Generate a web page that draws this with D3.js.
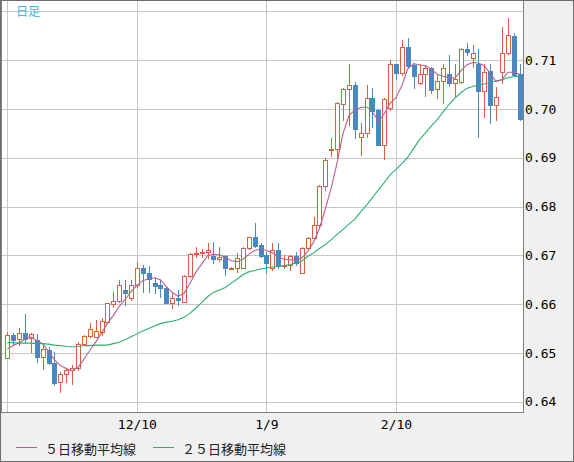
<!DOCTYPE html>
<html>
<head>
<meta charset="utf-8">
<script src="https://cdn.jsdelivr.net/npm/d3@7"></script>
<style>
  body { margin: 0; background: #fff; }
  svg { display: block; }
</style>
</head>
<body>
<svg id="candleChart" width="574" height="462"></svg>
<script>
// daily candles (oldest first)
const opens = [
  0.6489, 0.6537, 0.6528, 0.6541, 0.6530, 0.6526, 0.6492, 0.6506, 0.6479, 0.6440, 0.6456,
  0.6464, 0.6470, 0.6518, 0.6535, 0.6533, 0.6543, 0.6564, 0.6600, 0.6607, 0.6629, 0.6612,
  0.6639, 0.6675, 0.6663, 0.6643, 0.6639, 0.6632, 0.6603, 0.6613, 0.6605, 0.6658, 0.6702,
  0.6704, 0.6706, 0.6699, 0.6692, 0.6699, 0.6674, 0.6673, 0.6675, 0.6714, 0.6737, 0.6721,
  0.6700, 0.6673, 0.6711, 0.6679, 0.6680, 0.6699, 0.6664, 0.6714, 0.6735, 0.6762, 0.6842,
  0.6916, 0.6917, 0.7011, 0.7040, 0.7049, 0.6942, 0.6950, 0.7022, 0.6998, 0.6926, 0.7001,
  0.7092, 0.7073, 0.7127, 0.7090, 0.7053, 0.7071, 0.7083, 0.7040, 0.7057, 0.7072, 0.7054,
  0.7055, 0.7122, 0.7104, 0.7091, 0.7037, 0.7078, 0.7007, 0.7076, 0.7114, 0.7149, 0.7072
];
const highs = [
  0.6543, 0.6541, 0.6550, 0.6580, 0.6540, 0.6539, 0.6516, 0.6513, 0.6502, 0.6460, 0.6470,
  0.6475, 0.6523, 0.6537, 0.6561, 0.6567, 0.6571, 0.6602, 0.6625, 0.6649, 0.6649, 0.6649,
  0.6687, 0.6680, 0.6679, 0.6653, 0.6649, 0.6636, 0.6622, 0.6629, 0.6660, 0.6704, 0.6718,
  0.6713, 0.6725, 0.6728, 0.6716, 0.6701, 0.6676, 0.6704, 0.6718, 0.6738, 0.6766, 0.6725,
  0.6707, 0.6725, 0.6725, 0.6700, 0.6701, 0.6707, 0.6716, 0.6738, 0.6779, 0.6844, 0.6899,
  0.6940, 0.7015, 0.7042, 0.7092, 0.7056, 0.6972, 0.7049, 0.7042, 0.6999, 0.7022, 0.7100,
  0.7093, 0.7141, 0.7146, 0.7093, 0.7093, 0.7090, 0.7085, 0.7070, 0.7093, 0.7110, 0.7093,
  0.7124, 0.7136, 0.7131, 0.7122, 0.7093, 0.7093, 0.7045, 0.7168, 0.7186, 0.7156, 0.7093
];
const lows = [
  0.6489, 0.6516, 0.6516, 0.6523, 0.6502, 0.6482, 0.6466, 0.6477, 0.6434, 0.6420, 0.6441,
  0.6436, 0.6465, 0.6516, 0.6532, 0.6533, 0.6537, 0.6561, 0.6595, 0.6605, 0.6598, 0.6608,
  0.6636, 0.6625, 0.6625, 0.6622, 0.6615, 0.6602, 0.6591, 0.6598, 0.6605, 0.6656, 0.6697,
  0.6697, 0.6694, 0.6684, 0.6689, 0.6660, 0.6673, 0.6666, 0.6673, 0.6713, 0.6718, 0.6697,
  0.6663, 0.6670, 0.6673, 0.6673, 0.6670, 0.6680, 0.6664, 0.6712, 0.6733, 0.6760, 0.6834,
  0.6903, 0.6902, 0.6977, 0.6967, 0.6940, 0.6906, 0.6943, 0.6963, 0.6925, 0.6897, 0.6998,
  0.7061, 0.7069, 0.7086, 0.7042, 0.7052, 0.7027, 0.7033, 0.7022, 0.7013, 0.7046, 0.7026,
  0.7053, 0.7110, 0.7085, 0.6942, 0.6984, 0.6972, 0.6977, 0.7053, 0.7112, 0.7067, 0.6977
];
const closes = [
  0.6537, 0.6526, 0.6540, 0.6528, 0.6538, 0.6492, 0.6507, 0.6479, 0.6439, 0.6456, 0.6465,
  0.6470, 0.6518, 0.6535, 0.6548, 0.6545, 0.6565, 0.6602, 0.6607, 0.6639, 0.6623, 0.6639,
  0.6675, 0.6663, 0.6651, 0.6637, 0.6632, 0.6603, 0.6612, 0.6609, 0.6658, 0.6702, 0.6704,
  0.6707, 0.6711, 0.6692, 0.6697, 0.6673, 0.6675, 0.6694, 0.6714, 0.6737, 0.6719, 0.6699,
  0.6685, 0.6711, 0.6678, 0.6680, 0.6699, 0.6684, 0.6714, 0.6735, 0.6762, 0.6842, 0.6895,
  0.6918, 0.7013, 0.7040, 0.7049, 0.6959, 0.6950, 0.7022, 0.6996, 0.6926, 0.7020, 0.7093,
  0.7073, 0.7126, 0.7088, 0.7068, 0.7071, 0.7083, 0.7039, 0.7057, 0.7083, 0.7054, 0.7061,
  0.7122, 0.7117, 0.7114, 0.7037, 0.7076, 0.7007, 0.7025, 0.7114, 0.7151, 0.7069, 0.6979
];
// moving averages as drawn
const ma5 = [
  0.6508, 0.6515, 0.6521, 0.6528, 0.6533, 0.6525, 0.6519, 0.6503, 0.6486, 0.6474, 0.6468,
  0.6463, 0.6470, 0.6487, 0.6505, 0.6522, 0.6541, 0.6560, 0.6577, 0.6595, 0.6610, 0.6625,
  0.6639, 0.6648, 0.6652, 0.6654, 0.6650, 0.6636, 0.6624, 0.6616, 0.6622, 0.6642, 0.6665,
  0.6682, 0.6699, 0.6702, 0.6701, 0.6696, 0.6689, 0.6687, 0.6692, 0.6702, 0.6710, 0.6713,
  0.6710, 0.6705, 0.6697, 0.6692, 0.6691, 0.6691, 0.6694, 0.6708, 0.6727, 0.6755, 0.6795,
  0.6838, 0.6890, 0.6950, 0.6986, 0.6998, 0.7003, 0.7004, 0.6994, 0.6975, 0.6990, 0.7012,
  0.7023, 0.7048, 0.7082, 0.7093, 0.7090, 0.7089, 0.7081, 0.7071, 0.7067, 0.7064, 0.7063,
  0.7078, 0.7090, 0.7095, 0.7094, 0.7088, 0.7073, 0.7056, 0.7060, 0.7075, 0.7075, 0.7071
];
const ma25 = [
  0.6521, 0.6521, 0.6520, 0.6520, 0.6520, 0.6519, 0.6519, 0.6518, 0.6516, 0.6515, 0.6513,
  0.6512, 0.6513, 0.6515, 0.6515, 0.6516, 0.6516, 0.6516, 0.6519, 0.6522, 0.6527, 0.6533,
  0.6539, 0.6545, 0.6550, 0.6555, 0.6560, 0.6563, 0.6565, 0.6568, 0.6573, 0.6581, 0.6592,
  0.6603, 0.6615, 0.6624, 0.6629, 0.6634, 0.6643, 0.6651, 0.6660, 0.6666, 0.6669, 0.6672,
  0.6674, 0.6676, 0.6677, 0.6679, 0.6681, 0.6684, 0.6688, 0.6698, 0.6705, 0.6714, 0.6722,
  0.6732, 0.6743, 0.6753, 0.6764, 0.6774, 0.6789, 0.6803, 0.6818, 0.6834, 0.6849, 0.6865,
  0.6876, 0.6888, 0.6901, 0.6919, 0.6937, 0.6951, 0.6965, 0.6978, 0.6994, 0.7009, 0.7022,
  0.7033, 0.7042, 0.7046, 0.7049, 0.7051, 0.7054, 0.7057, 0.7060, 0.7064, 0.7066, 0.7067
];
const tickIndex = [0, 22, 44, 66];
const tickLabels = ['', '12/10', '1/9', '2/10'];
const gridPrices = [0.64, 0.65, 0.66, 0.67, 0.68, 0.69, 0.70, 0.71, 0.72];
const labelPrices = [0.64, 0.65, 0.66, 0.67, 0.68, 0.69, 0.70, 0.71];
const legendNames = ['５日移動平均線', '２５日移動平均線'];

var svg;
const upColor = '#d8603f';
const downColor = '#4a88c2';
const ma5Color = '#bb5d8e';
const ma25Color = '#2bb06f';

document.addEventListener('DOMContentLoaded', function () {
  svg = d3.select('#candleChart');
  drawCandleChart();
});

function drawCandleChart() {
  const plot = { left: 1, top: 1, right: 523, bottom: 412 };

  // outer panel + white plot area
  svg.append('rect')
    .attr('x', 0.5).attr('y', 0.5)
    .attr('width', 573).attr('height', 461)
    .style('fill', '#f0f0f0')
    .style('stroke', '#6e6e6e');
  svg.append('rect')
    .attr('x', plot.left).attr('y', plot.top)
    .attr('width', plot.right - plot.left).attr('height', plot.bottom - plot.top)
    .style('fill', '#fff');

  const xScale = d3.scaleLinear()
    .domain([0, closes.length - 1])
    .range([7.3, 519.7]);
  const yScale = d3.scaleLinear()
    .domain([0.64, 0.72])
    .range([401.7, 11.3]);

  // grid lines
  const hGrid = svg.append('g')
    .attr('transform', `translate(${plot.right}, 0)`)
    .call(d3.axisRight(yScale).tickValues(gridPrices).tickSize(-(plot.right - plot.left)).tickFormat(''));
  const vGrid = svg.append('g')
    .attr('transform', `translate(0, ${plot.bottom})`)
    .call(d3.axisBottom(xScale).tickValues(tickIndex).tickSize(-(plot.bottom - plot.top)).tickFormat(''));
  [hGrid, vGrid].forEach(g => {
    g.select('.domain').remove();
    g.selectAll('line').style('stroke', '#c8c8c8').style('shape-rendering', 'crispEdges');
  });

  svg.append('clipPath').attr('id', 'plotClip')
    .append('rect')
    .attr('x', plot.left).attr('y', plot.top)
    .attr('width', plot.right - plot.left).attr('height', plot.bottom - plot.top);

  const g = svg.append('g').attr('clip-path', 'url(#plotClip)');
  const idx = d3.range(closes.length);
  const col = i => Math.round(xScale(i));
  const row = v => Math.round(yScale(v));

  // wicks
  g.selectAll('.wick')
    .data(idx)
    .enter()
    .append('line')
    .attr('x1', i => col(i) + 0.5)
    .attr('x2', i => col(i) + 0.5)
    .attr('y1', i => row(highs[i]))
    .attr('y2', i => row(lows[i]) + 1)
    .style('stroke', i => closes[i] >= opens[i] ? upColor : downColor)
    .style('stroke-width', 1)
    .style('shape-rendering', 'crispEdges');

  // down candles: filled blue
  g.selectAll('.down')
    .data(idx.filter(i => closes[i] < opens[i]))
    .enter()
    .append('rect')
    .attr('x', i => col(i) - 2)
    .attr('y', i => row(opens[i]))
    .attr('width', 5)
    .attr('height', i => Math.max(row(closes[i]) - row(opens[i]), 1) + 1)
    .style('fill', downColor)
    .style('shape-rendering', 'crispEdges');

  // up candles: hollow red
  g.selectAll('.up')
    .data(idx.filter(i => closes[i] >= opens[i]))
    .enter()
    .append('rect')
    .attr('x', i => col(i) - 1.5)
    .attr('y', i => row(closes[i]) + 0.5)
    .attr('width', 4)
    .attr('height', i => Math.max(row(opens[i]) - row(closes[i]), 1))
    .style('fill', '#fff')
    .style('stroke', upColor)
    .style('stroke-width', 1)
    .style('shape-rendering', 'crispEdges');

  // moving averages
  const line = d3.line().x((d, i) => xScale(i)).y(d => yScale(d));
  g.append('path').datum(ma25)
    .attr('d', line)
    .style('fill', 'none').style('stroke', ma25Color).style('stroke-width', 1.1);
  g.append('path').datum(ma5)
    .attr('d', line)
    .style('fill', 'none').style('stroke', ma5Color).style('stroke-width', 1.1);

  // plot frame (right + bottom)
  svg.append('path')
    .attr('d', `M${plot.right + 0.5},0.5V${plot.bottom + 0.5}H0.5`)
    .style('fill', 'none').style('stroke', '#808080')
    .style('shape-rendering', 'crispEdges');
  svg.append('line')
    .attr('x1', 1.5).attr('x2', 1.5).attr('y1', 0).attr('y2', plot.bottom)
    .style('stroke', '#808080').style('shape-rendering', 'crispEdges');

  // price labels
  const yAxis = svg.append('g')
    .attr('transform', `translate(${plot.right}, 0)`)
    .call(d3.axisRight(yScale).tickValues(labelPrices).tickSize(0).tickPadding(2).tickFormat(d3.format('.2f')));
  const xAxis = svg.append('g')
    .attr('transform', `translate(0, ${plot.bottom})`)
    .call(d3.axisBottom(xScale).tickValues(tickIndex).tickSize(0).tickPadding(8)
      .tickFormat((d, i) => tickLabels[i]));
  [yAxis, xAxis].forEach(a => {
    a.select('.domain').remove();
    a.selectAll('text')
      .style('font-family', '"DejaVu Sans Mono", monospace')
      .style('font-size', '13px')
      .style('fill', '#000');
  });

  svg.append('text')
    .attr('x', 16)
    .attr('y', 10.5)
    .attr('dominant-baseline', 'central')
    .style('font-family', '"Noto Sans CJK JP", sans-serif')
    .style('font-size', '12px')
    .style('fill', '#3cb6e8')
    .text('日足');

  // legend
  const legendX = [16, 153];
  const legendColors = [ma5Color, ma25Color];
  legendNames.forEach((name, k) => {
    svg.append('line')
      .attr('x1', legendX[k]).attr('x2', legendX[k] + 21)
      .attr('y1', 447.5).attr('y2', 447.5)
      .style('stroke', legendColors[k]).style('stroke-width', 1);
    svg.append('text')
      .attr('x', legendX[k] + 29)
      .attr('y', 448)
      .attr('dominant-baseline', 'central')
      .style('font-family', '"Noto Sans CJK JP", sans-serif')
      .style('font-size', '13px')
      .style('fill', '#222')
      .text(name);
  });
}
</script>
</body>
</html>
